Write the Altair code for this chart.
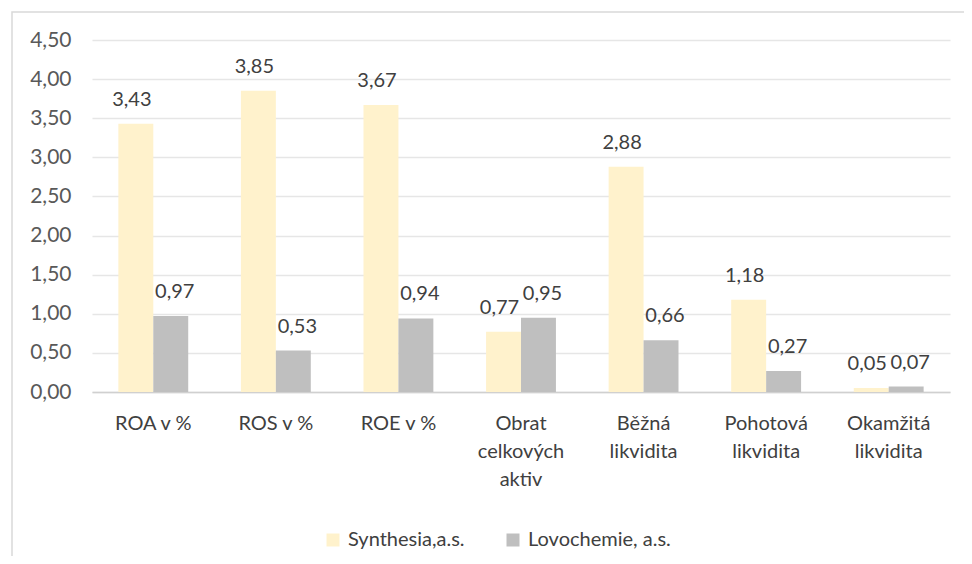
import altair as alt
import pandas as pd

categories = ["ROA v %", "ROS v %", "ROE v %", "Obrat\ncelkových\naktiv",
              "Běžná\nlikvidita", "Pohotová\nlikvidita", "Okamžitá\nlikvidita"]
series = ["Synthesia,a.s.", "Lovochemie, a.s."]
synthesia = [3.43, 3.85, 3.67, 0.77, 2.88, 1.18, 0.05]
lovochemie = [0.97, 0.53, 0.94, 0.95, 0.66, 0.27, 0.07]
y_ticks = [0.0, 0.5, 1.0, 1.5, 2.0, 2.5, 3.0, 3.5, 4.0, 4.5]
colors = ["#FFF2CC", "#BFBFBF"]

rows = []
for c, a, b in zip(categories, synthesia, lovochemie):
    rows.append({"cat": c, "series": series[0], "value": a})
    rows.append({"cat": c, "series": series[1], "value": b})
df = pd.DataFrame(rows)

FONT = "Lato"

base = alt.Chart(df).encode(
    x=alt.X("cat:N", sort=categories, title=None,
            scale=alt.Scale(paddingInner=0.43, paddingOuter=0.215),
            axis=alt.Axis(labelExpr="split(datum.value, '\\n')", labelAngle=0,
                          labelFontSize=20, labelColor="#404040", labelFont=FONT,
                          labelLineHeight=28, labelPadding=21, ticks=False,
                          domainColor="#D0D0D0", domainWidth=1.5, grid=False)),
    xOffset=alt.XOffset("series:N", sort=series, scale=alt.Scale(paddingInner=0, paddingOuter=0)),
)

y_axis = alt.Axis(values=y_ticks, labelExpr="replace(format(datum.value, '.2f'), '.', ',')",
                  labelFontSize=21, labelColor="#595959", labelFont=FONT,
                  labelPadding=21, ticks=False, domain=False, labelOverlap=False,
                  gridColor="#E6E6E6", gridWidth=1.5)
y_enc = alt.Y("value:Q", title=None, scale=alt.Scale(domain=[0, 4.5], nice=False), axis=y_axis)

bars = base.mark_bar().encode(
    y=y_enc,
    color=alt.Color("series:N", sort=series,
                    scale=alt.Scale(domain=series, range=colors),
                    legend=alt.Legend(title=None, orient="none", legendX=231, legendY=490,
                                      direction="horizontal", symbolType="square",
                                      symbolSize=169, symbolStrokeWidth=0,
                                      labelFontSize=20, labelFont=FONT, labelColor="#404040",
                                      columnPadding=38, labelOffset=5)),
)

def label_layer(name, dx):
    return base.mark_text(dy=-24, dx=dx, fontSize=20, font=FONT, color="#404040").transform_filter(
        alt.datum.series == name
    ).transform_calculate(
        lbl="replace(format(datum.value, '.2f'), '.', ',')"
    ).encode(
        y=y_enc,
        text="lbl:N",
    )

labels_a = label_layer(series[0], -4)
labels_b = label_layer(series[1], 4)

border = alt.Chart(pd.DataFrame({"k": [0]})).mark_rect(
    fill=None, stroke="#D9D9D9", strokeWidth=1.5
).encode(
    x=alt.value(-80), x2=alt.value(900), y=alt.value(-28), y2=alt.value(560)
)

chart = alt.layer(border, bars, labels_a, labels_b).properties(
    width=858, height=352,
    autosize=alt.AutoSizeParams(type="none"),
    padding={"left": 84, "top": 32, "right": 14, "bottom": 164},
).configure(font=FONT).configure_view(stroke=None)

chart.save("out.html", embed_options={"renderer": "svg", "actions": False})
